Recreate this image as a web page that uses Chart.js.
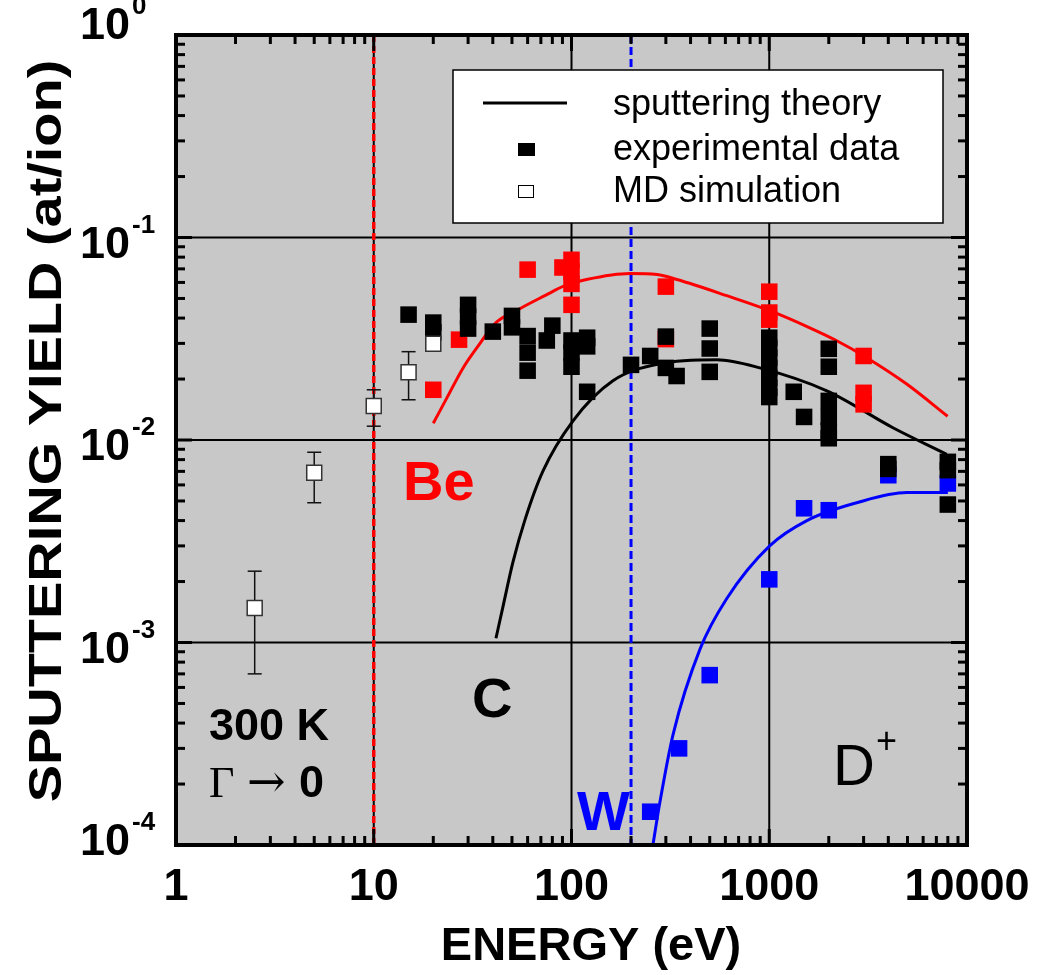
<!DOCTYPE html>
<html>
<head>
<meta charset="utf-8">
<title>Sputtering yield vs energy</title>
<script src="https://cdn.jsdelivr.net/npm/chart.js@4"></script>
<style>
  html, body { margin: 0; padding: 0; background: #fff; }
  #wrap { width: 1043px; height: 975px; }
</style>
</head>
<body>
<div id="wrap"><canvas id="chart" width="1043" height="975"></canvas></div>
<script>
// ---- data (energy in eV, yield in at/ion) ----
const cExpE = [15, 20, 20, 30, 30, 30, 40, 50, 50, 60, 60, 60, 75, 80, 100, 100, 100, 120, 120, 120,
  200, 250, 300, 300, 340, 500, 500, 500, 1000, 1000, 1000, 1000, 1000, 1000, 1000, 1330, 1500,
  2000, 2000, 2000, 2000, 2000, 2000, 4000, 4000, 8000, 8000, 8000];
const cExpY = [0.0416, 0.038, 0.034, 0.0465, 0.0407, 0.0355, 0.0343, 0.041, 0.036, 0.0326, 0.027, 0.022,
  0.031, 0.0367, 0.031, 0.027, 0.023, 0.032, 0.029, 0.0173, 0.0235, 0.026, 0.0324, 0.0227, 0.0207,
  0.0355, 0.0283, 0.0217, 0.032, 0.0285, 0.0255, 0.0227, 0.0203, 0.0181, 0.0163, 0.0173, 0.013,
  0.0282, 0.023, 0.0156, 0.013, 0.0111, 0.0102, 0.0076, 0.0072, 0.0078, 0.0071, 0.0048];

const beExpE = [20, 27, 60, 90, 100, 100, 100, 100, 300, 300, 1000, 1000, 1000, 3000, 3000, 3000];
const beExpY = [0.0177, 0.0313, 0.0694, 0.0711, 0.0776, 0.068, 0.059, 0.0465, 0.0572, 0.0315,
  0.054, 0.0426, 0.0393, 0.026, 0.0171, 0.015];

const wExpE = [250, 350, 500, 1000, 1500, 2000, 4000, 8000];
const wExpY = [0.000146, 0.0003, 0.00069, 0.00205, 0.0046, 0.0045, 0.0067, 0.0061];

const mdE = [2.5, 5, 10, 15, 20];
const mdY = [0.00148, 0.0069, 0.0147, 0.0216, 0.0299];
const mdLow = [0.0007, 0.0049, 0.0117, 0.0158, 0.0285];
const mdHigh = [0.00225, 0.0087, 0.0177, 0.0273, 0.031];

const beTheoryE = [20, 23.4, 28.3, 34.4, 40.9, 54.8, 73.3, 92.5, 119, 197, 271, 341, 610, 1006, 1603, 2195, 3110, 4955, 7980];
const beTheoryY = [0.0121, 0.0161, 0.0227, 0.0299, 0.0375, 0.0445, 0.0516, 0.0578, 0.062, 0.0664, 0.0656, 0.062,
  0.0516, 0.0435, 0.0358, 0.0309, 0.0255, 0.0189, 0.0131];

const cTheoryE = [41.5, 45, 50.6, 58, 71.6, 101.6, 162, 280, 543, 896, 1955, 4220, 7900];
const cTheoryY = [0.00105, 0.0015, 0.0025, 0.004, 0.007, 0.0124, 0.0196, 0.0238, 0.0249, 0.0227, 0.0175, 0.0115, 0.0085];

const wTheoryE = [258, 280, 326, 447, 610, 1005, 1550, 2770, 4970, 8000];
const wTheoryY = [0.0001, 0.000163, 0.00035, 0.00093, 0.00165, 0.003, 0.004, 0.0049, 0.0055, 0.0055];

// threshold markers (vertical lines)
const beLineE = 10;
const wLineE = 200;

// axes
const energyTicks = [1, 10, 100, 1000, 10000];
const yieldTicks = [1, 0.1, 0.01, 0.001, 0.0001];
const yieldExp = ['0', '-1', '-2', '-3', '-4'];

const legendItems = ['sputtering theory', 'experimental data', 'MD simulation'];

const RED = '#ff0000', BLUE = '#0000ff', BLACK = '#000000';
const SANS = '"Liberation Sans", Arial, Helvetica, sans-serif';
const SERIF = '"Liberation Serif", "Times New Roman", serif';

function pts(xs, ys) { return xs.map((v, i) => ({ x: v, y: ys[i] })); }

function squares(label, xs, ys, color) {
  return { label, data: pts(xs, ys), pointStyle: 'rect', pointRadius: 11.7, pointHoverRadius: 11.7,
    backgroundColor: color, borderColor: color, borderWidth: 0, showLine: false };
}
function curve(label, xs, ys, color) {
  return { label, data: pts(xs, ys), showLine: true, pointRadius: 0, borderColor: color,
    borderWidth: 3, cubicInterpolationMode: 'monotone', fill: false };
}

// Helper: straight line
function seg(ctx, x1, y1, x2, y2) {
  ctx.beginPath(); ctx.moveTo(x1, y1); ctx.lineTo(x2, y2); ctx.stroke();
}

const framePlugin = {
  id: 'frame',
  beforeDatasetsDraw(chart) {
    const { ctx, chartArea: a, scales: { x, y } } = chart;
    ctx.save();
    ctx.fillStyle = '#c8c8c8';
    ctx.fillRect(a.left, a.top, a.right - a.left, a.bottom - a.top);

    // major grid at decades
    ctx.strokeStyle = BLACK; ctx.lineWidth = 2;
    energyTicks.slice(1, -1).forEach(v => { const p = x.getPixelForValue(v); seg(ctx, p, a.top, p, a.bottom); });
    yieldTicks.slice(1, -1).forEach(v => { const p = y.getPixelForValue(v); seg(ctx, a.left, p, a.right, p); });

    // threshold lines
    ctx.lineWidth = 3.5; ctx.strokeStyle = RED; ctx.setLineDash([7, 4]);
    let p = x.getPixelForValue(beLineE); seg(ctx, p, a.top, p, a.bottom);
    ctx.lineWidth = 3; ctx.strokeStyle = BLUE; ctx.setLineDash([8, 4]);
    p = x.getPixelForValue(wLineE); seg(ctx, p, a.top, p, a.bottom);
    ctx.setLineDash([]);

    // MD error bars
    ctx.strokeStyle = '#111'; ctx.lineWidth = 1.5;
    mdE.forEach((e, i) => {
      const px = x.getPixelForValue(e);
      const lo = y.getPixelForValue(mdLow[i]), hi = y.getPixelForValue(mdHigh[i]);
      seg(ctx, px, lo, px, hi);
      seg(ctx, px - 7, lo, px + 7, lo);
      seg(ctx, px - 7, hi, px + 7, hi);
    });
    ctx.restore();
  },
  afterDatasetsDraw(chart) {
    const { ctx, chartArea: a, scales: { x, y } } = chart;
    ctx.save();

    // legend box
    ctx.fillStyle = '#fff'; ctx.strokeStyle = BLACK; ctx.lineWidth = 1.5;
    ctx.fillRect(453, 70, 490, 153); ctx.strokeRect(453, 70, 490, 153);
    ctx.lineWidth = 3; seg(ctx, 483, 103, 567, 103);
    ctx.fillStyle = BLACK; ctx.fillRect(518, 143, 17, 13);
    ctx.fillStyle = '#fff'; ctx.fillRect(518, 185, 16, 13);
    ctx.lineWidth = 1; ctx.strokeRect(518.5, 185.5, 15, 12);
    ctx.fillStyle = BLACK; ctx.font = '36px ' + SANS; ctx.textAlign = 'left'; ctx.textBaseline = 'alphabetic';
    [115, 160, 202].forEach((b, i) => ctx.fillText(legendItems[i], 613, b));

    // element labels
    ctx.font = 'bold 56px ' + SANS;
    ctx.fillStyle = RED; ctx.fillText('Be', 403, 500);
    ctx.fillStyle = BLACK; ctx.fillText('C', 472, 717);
    ctx.fillStyle = BLUE; ctx.fillText('W', 577, 830);
    ctx.fillStyle = BLACK;
    ctx.font = '58px ' + SANS; ctx.fillText('D', 833, 785);
    ctx.font = '36px ' + SANS; ctx.fillText('+', 876, 753);
    ctx.font = 'bold 45px ' + SANS; ctx.fillText('300 K', 209, 740);
    ctx.font = '44px ' + SERIF; ctx.fillText('\u0393', 209, 797);
    ctx.font = '46px "DejaVu Serif", serif'; ctx.fillText('\u2192', 247, 797);
    ctx.font = 'bold 45px ' + SANS; ctx.fillText('0', 299, 797);

    // frame
    ctx.strokeStyle = BLACK; ctx.lineWidth = 4;
    ctx.strokeRect(a.left, a.top, a.right - a.left, a.bottom - a.top);

    // inward ticks on all four sides
    ctx.lineWidth = 3;
    for (let d = 0; d <= 4; d++) {
      for (let k = 1; k <= 9; k++) {
        const v = k * Math.pow(10, d);
        if (v >= 10000 || v <= 1) continue;
        const px = x.getPixelForValue(v), len = k === 1 ? 16 : 9;
        seg(ctx, px, a.bottom, px, a.bottom - len);
        seg(ctx, px, a.top, px, a.top + len);
      }
    }
    for (let d = -4; d <= 0; d++) {
      for (let k = 1; k <= 9; k++) {
        const v = k * Math.pow(10, d);
        if (v >= 1 || v <= 0.0001) continue;
        const py = y.getPixelForValue(v), len = k === 1 ? 16 : 9;
        seg(ctx, a.left, py, a.left + len, py);
        seg(ctx, a.right, py, a.right - len, py);
      }
    }

    // tick labels (top and bottom decade labels sit a little inside the frame)
    ctx.fillStyle = BLACK;
    ctx.font = 'bold 45px ' + SANS; ctx.textAlign = 'center';
    energyTicks.forEach(v => ctx.fillText(String(v), x.getPixelForValue(v), 900));
    const yShift = [-16, 0, 0, 0, -10];
    yieldTicks.forEach((v, i) => {
      const py = y.getPixelForValue(v) + yShift[i];
      ctx.font = 'bold 45px ' + SANS; ctx.textAlign = 'right';
      ctx.fillText('10', 130, py + 20);
      ctx.font = 'bold 26px ' + SANS; ctx.textAlign = 'left';
      ctx.fillText(yieldExp[i], 132, py - 5);
    });

    // axis titles
    ctx.font = 'bold 47px ' + SANS; ctx.textAlign = 'center';
    ctx.fillText('ENERGY (eV)', 591, 960);
    ctx.save();
    ctx.translate(61, 431); ctx.rotate(-Math.PI / 2); ctx.scale(1.19, 1);
    ctx.fillText('SPUTTERING YIELD (at/ion)', 0, 0);
    ctx.restore();

    ctx.restore();
  }
};

const chart = new Chart(document.getElementById('chart').getContext('2d'), {
  type: 'scatter',
  data: {
    datasets: [
      { label: 'MD simulation', data: pts(mdE, mdY), pointStyle: 'rect', pointRadius: 10.6, pointHoverRadius: 10.6,
        backgroundColor: '#ffffff', borderColor: '#333333', borderWidth: 1.5 },
      squares('C experiment', cExpE, cExpY, BLACK),
      squares('Be experiment', beExpE, beExpY, RED),
      squares('W experiment', wExpE, wExpY, BLUE),
      curve('C theory', cTheoryE, cTheoryY, BLACK),
      curve('Be theory', beTheoryE, beTheoryY, RED),
      curve('W theory', wTheoryE, wTheoryY, BLUE)
    ]
  },
  options: {
    responsive: false,
    animation: false,
    devicePixelRatio: 1,
    layout: { padding: { left: 176, top: 35, right: 76, bottom: 130 } },
    plugins: { legend: { display: false }, tooltip: { enabled: false } },
    scales: {
      x: { type: 'logarithmic', min: 1, max: 10000,
        grid: { display: false, drawTicks: false }, border: { display: false },
        ticks: { display: false }, afterFit: s => { s.height = 0; } },
      y: { type: 'logarithmic', min: 0.0001, max: 1,
        grid: { display: false, drawTicks: false }, border: { display: false },
        ticks: { display: false }, afterFit: s => { s.width = 0; } }
    }
  },
  plugins: [framePlugin]
});
</script>
</body>
</html>
